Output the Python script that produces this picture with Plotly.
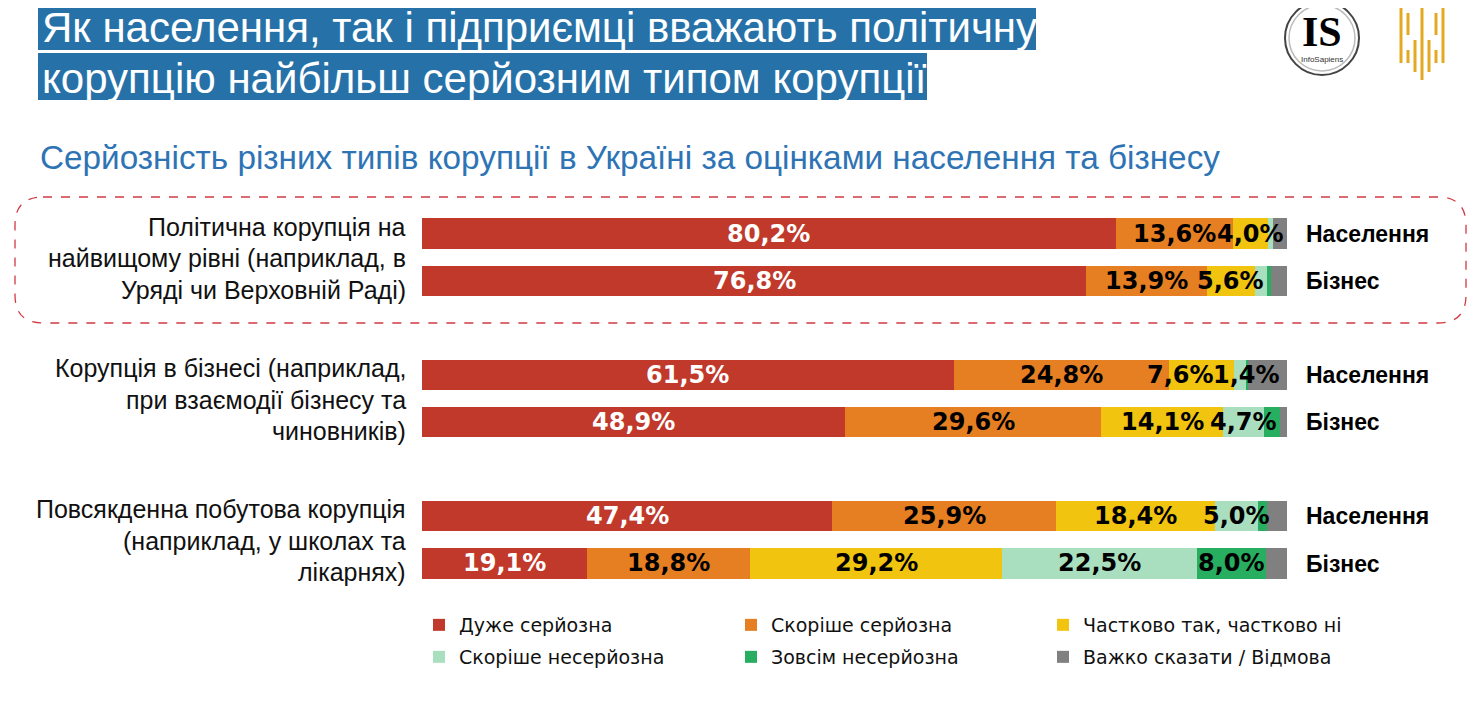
import plotly.graph_objects as go

# --- data ---
groups = [
    ["Політична корупція на", "найвищому рівні (наприклад, в", "Уряді чи Верховній Раді)"],
    ["Корупція в бізнесі (наприклад,", "при взаємодії бізнесу та", "чиновників)"],
    ["Повсякденна побутова корупція", "(наприклад, у школах та", "лікарнях)"],
]
respondents = ["Населення", "Бізнес"]

categories = [
    "Дуже серйозна",
    "Скоріше серйозна",
    "Частково так, частково ні",
    "Скоріше несерйозна",
    "Зовсім несерйозна",
    "Важко сказати / Відмова",
]
# rows: group1 pop, group1 biz, group2 pop, group2 biz, group3 pop, group3 biz
very_serious = [80.2, 76.8, 61.5, 48.9, 47.4, 19.1]
rather_serious = [13.6, 13.9, 24.8, 29.6, 25.9, 18.8]
partly = [4.0, 5.6, 7.6, 14.1, 18.4, 29.2]
rather_not = [0.6, 1.4, 1.4, 4.7, 5.0, 22.5]
not_at_all = [0.0, 0.5, 0.2, 1.9, 1.0, 8.0]
hard_to_say = [1.6, 1.8, 4.5, 0.8, 2.3, 2.4]

# which segments carry a value label on the slide
labelled = [
    [1, 1, 1, 0, 0, 0],
    [1, 1, 1, 0, 0, 0],
    [1, 1, 1, 1, 0, 0],
    [1, 1, 1, 1, 0, 0],
    [1, 1, 1, 1, 0, 0],
    [1, 1, 1, 1, 1, 0],
]

colors = ["#C0392B", "#E67E22", "#F1C40F", "#A9DFBF", "#27AE60", "#808080"]
text_colors = ["white", "black", "black", "black", "black", "black"]

series = [very_serious, rather_serious, partly, rather_not, not_at_all, hard_to_say]

# --- geometry helpers (page has an 8px body margin) ---
FW, FH = 1460, 691
L, T, PW, PH = 414, 202, 865, 377
R, B = FW - L - PW, FH - T - PH
SX0, SY1 = 422, 587  # screen position of plot left / bottom


def xp(px):
    return (px - SX0) / PW


def yp(py):
    return (SY1 - py) / PH


# slot on the y axis: two bars per group, one empty slot between groups
slots = [g * 3 + r for g in range(len(groups)) for r in range(len(respondents))]

fig = go.Figure()
for ci, (name, vals) in enumerate(zip(categories, series)):
    fig.add_trace(go.Bar(
        x=vals,
        y=slots,
        orientation="h",
        name=name,
        marker=dict(color=colors[ci], line=dict(width=0)),
        width=0.64,
        hoverinfo="skip",
        legend="legend" if ci < 3 else "legend2",
    ))

annotations = []
# value labels centred on each segment (two nudged apart like on the slide)
label_shift = {(2, 2): -21, (2, 3): 6}
for ri in range(len(slots)):
    start = 0
    for ci, vals in enumerate(series):
        v = vals[ri]
        if labelled[ri][ci]:
            annotations.append(dict(
                x=start + v / 2, y=slots[ri], xref="x", yref="y",
                xanchor="center", yanchor="middle",
                xshift=label_shift.get((ri, ci), 0),
                text=f"<b>{v:.1f}%</b>".replace(".", ","), showarrow=False,
                font=dict(family="DejaVu Sans", size=24, color=text_colors[ci]),
            ))
        start += v

# group labels left of bars
for g, lines in enumerate(groups):
    for i, line in enumerate(lines):
        annotations.append(dict(
            x=0, xref="paper", xshift=-14, xanchor="right",
            y=g * 3 + 0.5, yref="y", yshift=-(i - 1) * 31.5 - 1, yanchor="middle",
            text=line, showarrow=False,
            font=dict(family="Liberation Sans", size=25, color="#111111"),
        ))

shapes = []

# title: white text on blue boxes, one box per line
title_lines = [
    "Як населення, так і підприємці вважають політичну",
    "корупцію найбільш серйозним типом корупції",
]
title_box_right = [1036, 927]
for i, line in enumerate(title_lines):
    shapes.append(dict(type="rect", xref="paper", yref="paper", layer="below",
                       x0=xp(38), x1=xp(title_box_right[i]),
                       y0=yp(50 + i * 50), y1=yp(3 + i * 50),
                       fillcolor="#2672A8", line=dict(width=0)))
    annotations.append(dict(
        x=xp(40), xref="paper", xanchor="left",
        y=yp(28 + i * 50), yref="paper", yanchor="middle",
        text=line, showarrow=False,
        font=dict(family="Liberation Sans", size=42, color="white"),
    ))
annotations.append(dict(
    x=xp(38), xref="paper", xanchor="left",
    y=yp(157), yref="paper", yanchor="middle",
    text="Серйозність різних типів корупції в Україні за оцінками населення та бізнесу",
    showarrow=False,
    font=dict(family="Liberation Sans", size=33.3, color="#2E74B5"),
))
# logo text
annotations.append(dict(x=xp(1322), y=yp(32), xref="paper", yref="paper", text="<b>IS</b>",
                        xanchor="center", yanchor="middle", showarrow=False,
                        font=dict(family="Liberation Serif", size=42, color="black")))
annotations.append(dict(x=xp(1322), y=yp(59), xref="paper", yref="paper", text="InfoSapiens",
                        xanchor="center", yanchor="middle", showarrow=False,
                        font=dict(family="Liberation Sans", size=8, color="#333333")))

# dashed rounded frame around the first group
x0, x1, y0, y1, rr = xp(15), xp(1466), yp(197), yp(323), 28
rx, ry = rr / PW, rr / PH
path = (f"M {x0 + rx},{y0} L {x1 - rx},{y0} Q {x1},{y0} {x1},{y0 - ry} "
        f"L {x1},{y1 + ry} Q {x1},{y1} {x1 - rx},{y1} L {x0 + rx},{y1} "
        f"Q {x0},{y1} {x0},{y1 + ry} L {x0},{y0 - ry} Q {x0},{y0} {x0 + rx},{y0} Z")
shapes.append(dict(type="path", path=path, xref="paper", yref="paper",
                   line=dict(color="#D23A44", width=1.3, dash="dash")))
# IS logo rings
shapes.append(dict(type="circle", xref="paper", yref="paper",
                   x0=xp(1285), x1=xp(1359), y0=yp(75), y1=yp(1),
                   line=dict(color="#444444", width=2)))
shapes.append(dict(type="circle", xref="paper", yref="paper",
                   x0=xp(1289), x1=xp(1355), y0=yp(71), y1=yp(5),
                   line=dict(color="#BBBBBB", width=1.5)))
# yellow bars logo
logo_bars = [(1401, 5, 63), (1408, 13, 35), (1408, 50, 63), (1415, 40, 72), (1422, 0, 80),
             (1429, 40, 72), (1436, 13, 35), (1436, 50, 63), (1443, 5, 63)]
for bx, by0, by1 in logo_bars:
    shapes.append(dict(type="line", xref="paper", yref="paper",
                       x0=xp(bx), x1=xp(bx), y0=yp(by0), y1=yp(by1),
                       line=dict(color="#E5A823", width=3)))

legend_common = dict(
    orientation="h", xanchor="left", yanchor="middle", traceorder="normal",
    entrywidth=267, entrywidthmode="pixels",
    font=dict(family="DejaVu Sans", size=19, color="#111111"),
    bgcolor="rgba(0,0,0,0)", itemclick=False, itemdoubleclick=False,
)

fig.update_layout(
    width=FW, height=FH,
    margin=dict(l=L, r=R, t=T, b=B),
    barmode="stack",
    bargap=0,
    plot_bgcolor="white",
    paper_bgcolor="white",
    showlegend=True,
    legend=dict(x=xp(419), y=yp(625), **legend_common),
    legend2=dict(x=xp(419), y=yp(657), **legend_common),
    xaxis=dict(range=[0, 100], visible=False, fixedrange=True),
    yaxis=dict(
        range=[7.5, -0.5], side="right",
        tickvals=slots,
        ticktext=[f"<b>{r}</b>" for _ in groups for r in respondents],
        ticks="", ticklabelstandoff=18,
        showgrid=False, zeroline=False, showline=False,
        tickfont=dict(family="Liberation Sans", size=23, color="black"),
        fixedrange=True,
    ),
    annotations=annotations,
    shapes=shapes,
)

fig.write_html("out.html")
